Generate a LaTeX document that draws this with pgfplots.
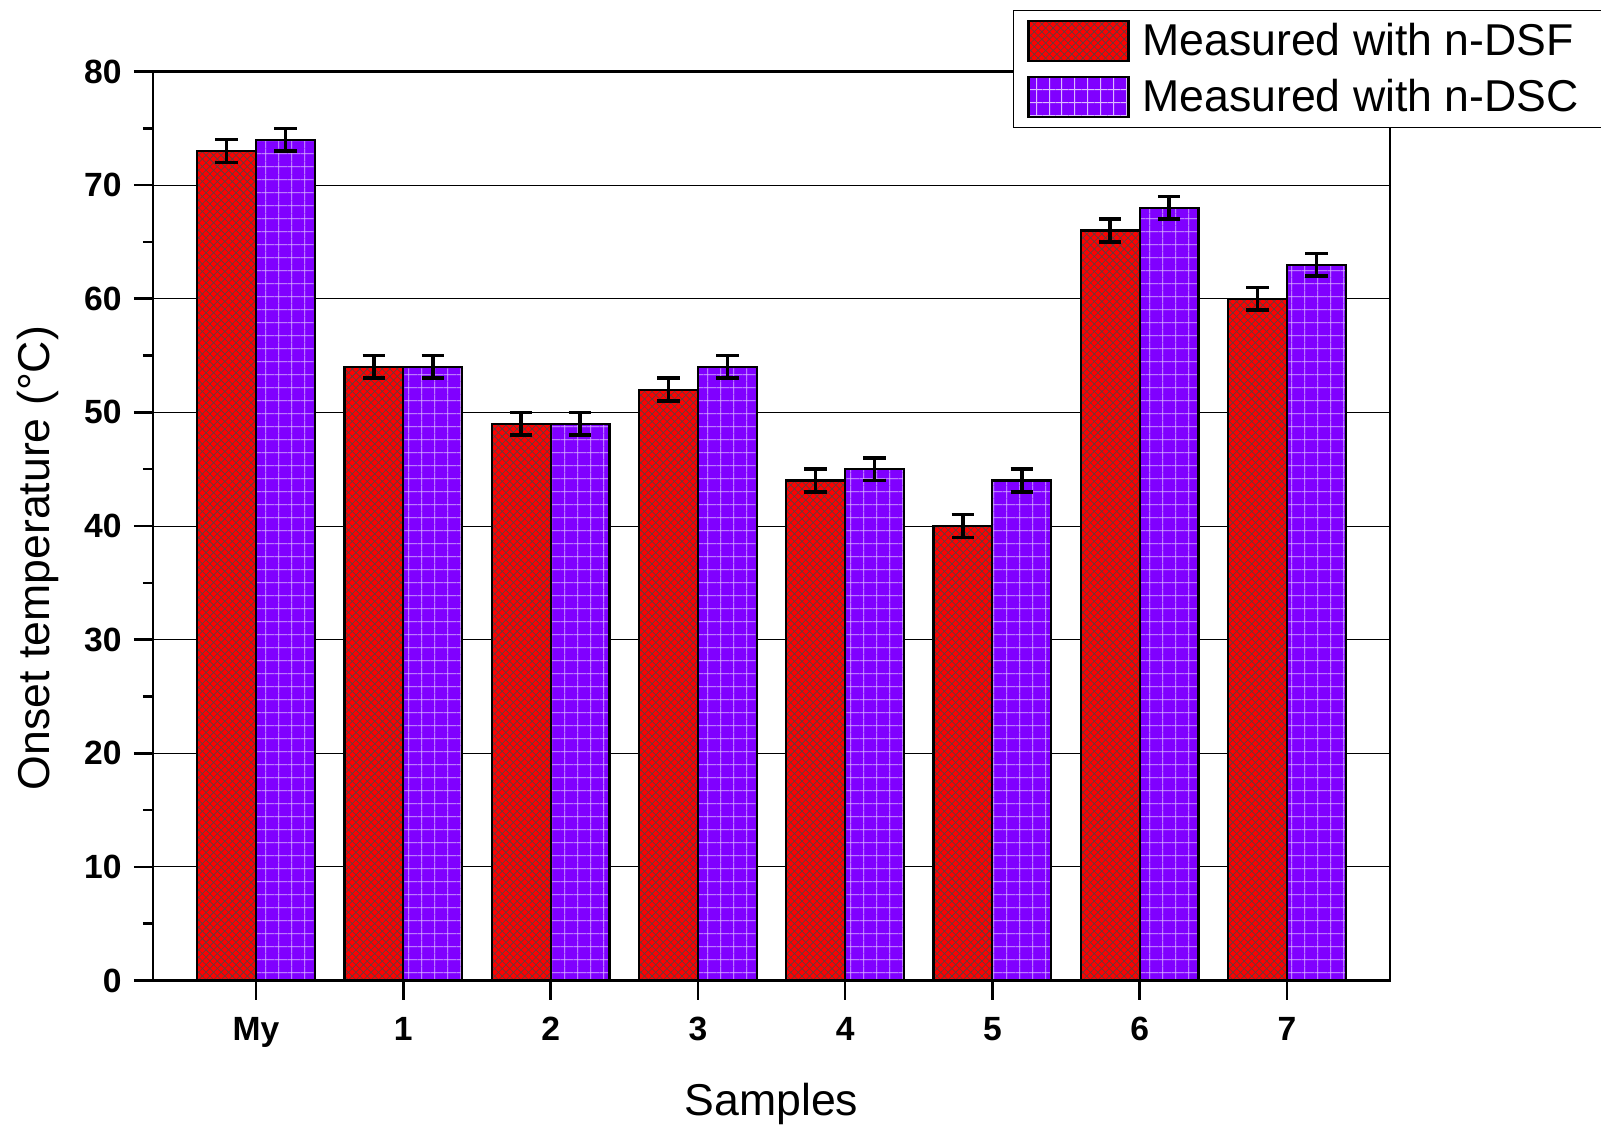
\documentclass[border=0pt]{standalone}
\usepackage{fontspec}
\setmainfont{Liberation Sans}
\usepackage{pgfplots}
\pgfplotsset{compat=1.18}
\usetikzlibrary{patterns.meta}
\definecolor{barred}{RGB}{255,0,0}
\definecolor{barviolet}{RGB}{128,0,255}
\definecolor{hatchred}{RGB}{95,62,62}
\definecolor{gridviolet}{RGB}{220,185,255}
\pgfplotsset{mylegend/.style={legend image code/.code={\draw[##1] (0pt,-10pt) rectangle (50pt,10pt);}}}
\begin{document}
\begin{tikzpicture}
\path[use as bounding box] (-76.5pt,-72.75pt) rectangle (724pt,490.25pt);
\begin{axis}[
  at={(0pt,0pt)}, anchor=south west,
  scale only axis, width=618.5pt, height=454.5pt,
  xmin=-0.7, xmax=7.7, ymin=0, ymax=80,
  ybar=0pt, bar width=0.4,
  every axis plot post/.append style={mylegend},
  xtick={0,...,7}, xticklabels={My,1,2,3,4,5,6,7},
  ytick={0,10,...,80}, minor y tick num=1,
  tick align=outside, xtick pos=bottom, ytick pos=left,
  major tick length=9.5pt, minor tick length=5pt,
  tick style={line width=1.3pt, black},
  axis line style={line width=1.3pt},
  ymajorgrids, major grid style={line width=0.5pt, black},
  ticklabel style={font=\fontsize{16.8pt}{19pt}\selectfont\bfseries, inner sep=0pt},
  xticklabel style={yshift=-8.7pt},
  yticklabel style={xshift=-6pt},
  /pgf/number format/assume math mode=true,
  xlabel={Samples}, ylabel={Onset temperature (°C)},
  label style={font=\fontsize{22.3pt}{26pt}\selectfont},
  xlabel style={at={(axis description cs:0.5,-0.1485)}, anchor=base},
  ylabel style={at={(axis description cs:-0.093,0.4648)}, anchor=center},
  legend cell align=left,
  legend style={at={(axis description cs:0.6952,1.0681)}, anchor=north west,
    draw=black, line width=0.5pt, fill=white, inner xsep=7pt, inner ysep=5pt,
    row sep=6.6pt, column sep=6.4pt, nodes={inner sep=0pt},
    font=\fontsize{22.3pt}{26pt}\selectfont},
]
\addplot[fill=barred, draw=black, line width=1.1pt,
  postaction={pattern={Lines[angle=45,distance=2.65pt,line width=0.36pt]}, pattern color=hatchred},
  postaction={pattern={Lines[angle=-45,distance=2.65pt,line width=0.36pt]}, pattern color=hatchred},
  error bars/.cd, y dir=both, y explicit,
  error bar style={line width=1.8pt, black},
  error mark options={rotate=90, line width=1.8pt, mark size=5.6pt, black}]
  coordinates {(0,73) +- (0,1) (1,54) +- (0,1) (2,49) +- (0,1) (3,52) +- (0,1)
               (4,44) +- (0,1) (5,40) +- (0,1) (6,66) +- (0,1) (7,60) +- (0,1)};
\addlegendentry{Measured with n-DSF\hspace*{15pt}}
\addplot[fill=barviolet, draw=black, line width=1.1pt,
  postaction={pattern={Lines[angle=0,distance=6.4pt,line width=0.45pt]}, pattern color=gridviolet},
  postaction={pattern={Lines[angle=90,distance=6.4pt,line width=0.45pt]}, pattern color=gridviolet},
  error bars/.cd, y dir=both, y explicit,
  error bar style={line width=1.8pt, black},
  error mark options={rotate=90, line width=1.8pt, mark size=5.6pt, black}]
  coordinates {(0,74) +- (0,1) (1,54) +- (0,1) (2,49) +- (0,1) (3,54) +- (0,1)
               (4,45) +- (0,1) (5,44) +- (0,1) (6,68) +- (0,1) (7,63) +- (0,1)};
\addlegendentry{Measured with n-DSC\hspace*{15pt}}
\end{axis}
\end{tikzpicture}
\end{document}
